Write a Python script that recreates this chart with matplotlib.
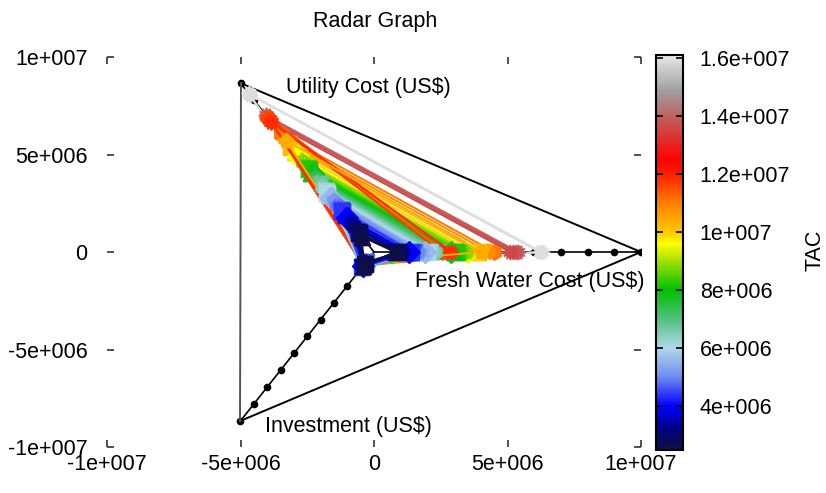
import numpy as np
import matplotlib
matplotlib.use("Agg")
import matplotlib.pyplot as plt
from matplotlib.colors import LinearSegmentedColormap, Normalize
from matplotlib.cm import ScalarMappable

plt.rcParams['font.family'] = ['Liberation Sans', 'DejaVu Sans']
FS = 15.5

# ---- data (radar coordinates, US$) ----
axis_names = ["Utility Cost (US$)", "Fresh Water Cost (US$)", "Investment (US$)"]
axis_angles_deg = [120, 0, 240]
radar_max = 1e7
radar_ticks = [1e6, 2e6, 3e6, 4e6, 5e6, 6e6, 7e6, 8e6, 9e6, 1e7]

# one row per solution (drawing order); values in millions
tac = [16.0, 15.9, 14.1, 14.0, 13.8, 13.6,
       11.1, 10.8, 10.5, 10.2, 9.9, 9.6, 9.3, 9.0, 8.8, 8.6, 8.4, 8.2, 8.0,
       7.8, 7.6, 7.4, 7.2, 7.0, 6.8,
       11.3, 11.5, 11.7, 11.9, 10.4,
       6.6, 6.4, 6.2, 6.0, 5.8, 5.6, 5.4, 5.2,
       5.0, 4.8, 4.6, 4.4, 4.2, 4.0, 3.8, 3.6, 3.4, 3.2, 3.0, 2.8, 2.6]
utility = [9.4, 9.3, 8.1, 8.0, 7.9, 7.7,
           7.0, 6.7, 6.4, 6.2, 5.9, 5.7, 5.5, 5.4, 5.3, 5.1, 5.0, 4.9, 4.7,
           4.6, 4.5, 4.4, 4.2, 4.1, 4.0,
           7.8, 8.0, 7.9, 7.7, 6.6,
           3.9, 3.8, 3.6, 3.5, 3.4, 3.2, 3.1, 3.0,
           2.8, 2.7, 2.5, 2.4, 2.2, 2.0, 1.9, 1.7, 1.6, 1.4, 1.2, 1.1, 0.9]
fresh = [6.3, 6.2, 5.4, 5.2, 5.3, 5.1,
         4.5, 4.3, 4.1, 3.9, 3.7, 3.5, 3.6, 3.5, 3.4, 3.3, 3.2, 3.1, 3.0,
         2.9, 2.8, 2.7, 2.6, 2.5, 2.4,
         2.6, 2.8, 2.5, 2.9, 4.0,
         2.3, 2.2, 2.1, 2.0, 1.8, 1.9, 1.8, 1.7,
         1.6, 1.4, 1.5, 1.4, 1.2, 1.3, 1.2, 1.1, 0.9, 1.0, 0.8, 0.9, 0.8]
invest = [0.7, 0.6, 0.7, 0.8, 0.6, 0.7,
          0.6, 0.7, 0.8, 0.6, 0.7, 0.8, 0.6, 0.7, 0.8, 0.6, 0.7, 0.8, 0.6,
          0.7, 0.8, 0.6, 0.9, 0.7, 0.8,
          0.7, 0.6, 0.8, 0.7, 0.6,
          0.6, 0.7, 0.8, 0.6, 0.9, 0.7, 0.8, 0.6,
          0.7, 0.8, 0.6, 0.9, 0.7, 0.8, 0.6, 0.7, 0.8, 0.6, 0.9, 0.7, 0.8]
scale = 1e6

x_ticks = [-1e7, -5e6, 0, 5e6, 1e7]
x_ticklabels = ["-1e+007", "-5e+006", "0", "5e+006", "1e+007"]
y_ticks = [-1e7, -5e6, 0, 5e6, 1e7]
y_ticklabels = ["-1e+007", "-5e+006", "0", "5e+006", "1e+007"]
cb_ticks = [4e6, 6e6, 8e6, 1e7, 1.2e7, 1.4e7, 1.6e7]
cb_ticklabels = ["4e+006", "6e+006", "8e+006", "1e+007", "1.2e+007", "1.4e+007", "1.6e+007"]
tac_min, tac_max = 2.5e6, 1.61e7

# ---- colormap ----
stops = [(2.5e6, "#101040"), (3.2e6, "#000080"), (4.0e6, "#0000ff"), (5.0e6, "#6f8cf0"),
         (6.0e6, "#b0d8e8"), (7.0e6, "#50c080"), (8.0e6, "#00c000"), (9.0e6, "#a0e000"),
         (9.6e6, "#ffff00"), (1.0e7, "#ffc800"), (1.1e7, "#ff8000"), (1.2e7, "#ff2000"),
         (1.25e7, "#ff0000"), (1.4e7, "#c06060"), (1.49e7, "#a0a0a0"), (1.61e7, "#e6e6e6")]
cmap = LinearSegmentedColormap.from_list(
    "tac", [((v - tac_min) / (tac_max - tac_min), c) for v, c in stops])
norm = Normalize(tac_min, tac_max)

W, H = 826, 493
fig = plt.figure(figsize=(W / 100, H / 100), dpi=100)
ax = fig.add_axes([107 / W, 1 - 447 / H, 534 / W, 390 / H])
ax.set_xlim(-1e7, 1e7)
ax.set_ylim(-1e7, 1e7)
for s in ax.spines.values():
    s.set_visible(False)
ax.set_xticks(x_ticks)
ax.set_xticklabels(x_ticklabels)
ax.set_yticks(y_ticks)
ax.set_yticklabels(y_ticklabels)
ax.tick_params(direction='in', length=5, width=1.2, color='#333333',
               top=True, right=True, labelsize=FS)
ax.tick_params(axis='x', pad=5)
ax.tick_params(axis='y', pad=14)

angles = np.deg2rad(axis_angles_deg)
ux, uy = np.cos(angles), np.sin(angles)

# radar axes with dotted ticks
for k in range(3):
    r = np.array([0] + radar_ticks)
    ax.plot(r * ux[k], r * uy[k], color='black', lw=1.2, marker='o', ms=4.5,
            markevery=list(range(1, len(r))), zorder=2)
# outer triangle
vx = radar_max * ux
vy = radar_max * uy
for a, b, col in [(0, 1, 'black'), (1, 2, 'black'), (2, 0, '#555555')]:
    ax.plot([vx[a], vx[b]], [vy[a], vy[b]], color=col, lw=1.4, zorder=2)

marker_cycle = ['v', 's', '^', 'D', (6, 1, 0), 'p', 'h', (12, 1, 0)]
for j in range(len(tac)):
    vals = np.array([utility[j], fresh[j], invest[j]]) * scale
    px = np.append(vals * ux, vals[0] * ux[0])
    py = np.append(vals * uy, vals[0] * uy[0])
    col = cmap(norm(tac[j] * scale))
    mk = (12, 1, 0) if tac[j] > 11.2 else marker_cycle[j % len(marker_cycle)]
    ax.plot(px, py, color=col, lw=1.4, marker=mk, ms=11, mec=col, mfc=col,
            zorder=3)

ax.text(-3.3e6, 8.45e6, axis_names[0], fontsize=FS, va='center', ha='left', zorder=5)
ax.text(1.55e6, -1.5e6, axis_names[1], fontsize=FS, va='center', ha='left', zorder=5)
ax.text(-4.1e6, -8.95e6, axis_names[2], fontsize=FS, va='center', ha='left', zorder=5)

fig.text(375 / W, 1 - 22 / H, "Radar Graph", fontsize=FS, ha='center', va='center')

# colorbar
cax = fig.add_axes([656 / W, 1 - 450 / H, 27 / W, 395 / H])
sm = ScalarMappable(norm=norm, cmap=cmap)
cb = fig.colorbar(sm, cax=cax)
cb.set_ticks(cb_ticks)
cb.set_ticklabels(cb_ticklabels)
cb.outline.set_linewidth(1.5)
cax.tick_params(direction='in', length=5, width=1.2, left=True, right=True,
                labelsize=FS, pad=12)
fig.text(815 / W, 1 - 250 / H, "TAC", fontsize=FS, rotation=90, ha='center', va='center')

fig.savefig("out.png", dpi=100)
